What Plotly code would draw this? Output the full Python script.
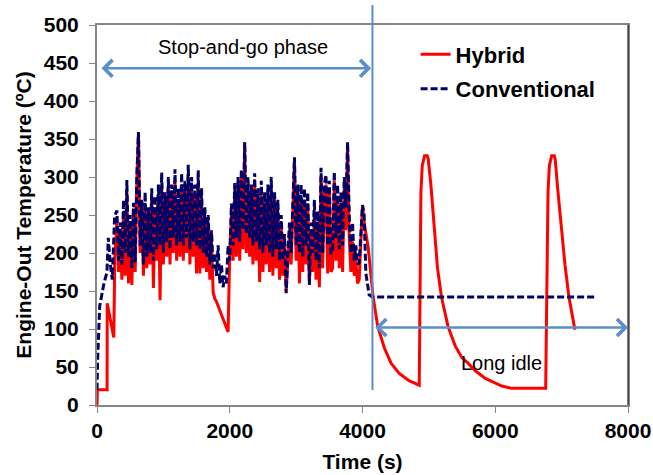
import plotly.graph_objects as go

# ---------------- data ----------------
# Hybrid (red, solid)
hyb_t_start = [0, 5, 152, 154, 253, 268]
hyb_v_start = [0, 20, 20, 134, 89, 195]
noise_t = list(range(300, 4026, 25))  # sample times of the stop-and-go phase
hyb_v_noise = [
    240, 175, 230, 165, 255, 170, 280, 160, 240, 158,
    250, 175, 295, 359, 200, 255, 170, 265, 180, 245,
    185, 270, 154, 260, 190, 275, 138, 290, 185, 265,
    195, 285, 185, 275, 200, 295, 190, 270, 195, 290,
    190, 280, 200, 300, 185, 285, 195, 275, 173, 295,
    173, 270, 180, 245, 175, 235, 165, 215, 148, 140,
    136, 130, 124, 118, 112, 106, 100, 96, 200, 250,
    190, 280, 195, 290, 190, 300, 205, 340, 200, 285,
    195, 275, 185, 290, 190, 270, 162, 280, 175, 265,
    185, 275, 175, 285, 170, 265, 180, 255, 165, 240,
    170, 215, 150, 195, 225, 185, 265, 320, 190, 280,
    160, 270, 175, 270, 185, 265, 160, 230, 175, 255,
    165, 240, 155, 300, 180, 275, 290, 173, 280, 175,
    180, 295, 190, 275, 180, 265, 175, 285, 230, 340,
    220, 175, 215, 170, 190, 160, 165, 210, 263, 240,
]
hyb_t_end = [4085, 4160, 4230, 4330, 4430, 4550, 4700, 4855, 4862, 4870, 4880,
             4900, 4935, 4975, 4990, 5030, 5080, 5130, 5190, 5290, 5400, 5500,
             5590, 5700, 5850, 5990, 6100, 6240, 6760, 6770, 6780, 6795, 6815,
             6850, 6890, 6905, 6940, 7000, 7050, 7110, 7200]
hyb_v_end = [208, 142, 103, 75, 55, 42, 32, 26, 100, 200, 280,
             315, 328, 328, 324, 290, 230, 180, 142, 103, 77, 62,
             55, 45, 35, 29, 25, 22, 22, 100, 200, 280, 315,
             328, 328, 322, 285, 230, 185, 142, 99]

# Conventional (navy, dashed)
conv_t_start = [0, 10, 40, 100, 150, 170, 200, 230, 265]
conv_v_start = [20, 60, 130, 158, 175, 220, 185, 165, 248]
conv_v_noise = [
    256, 190, 240, 185, 270, 200, 296, 195, 250, 180,
    266, 188, 300, 359, 210, 270, 185, 280, 195, 260,
    200, 285, 190, 275, 205, 290, 210, 306, 200, 280,
    215, 300, 205, 290, 220, 310, 210, 285, 215, 305,
    210, 295, 220, 316, 205, 300, 215, 290, 210, 309,
    205, 285, 200, 260, 195, 250, 185, 230, 180, 200,
    170, 210, 160, 185, 155, 170, 160, 210, 190, 265,
    210, 292, 220, 300, 215, 310, 230, 346, 225, 300,
    220, 290, 210, 305, 215, 285, 205, 295, 200, 280,
    210, 290, 200, 300, 195, 280, 205, 270, 190, 250,
    190, 225, 147, 200, 240, 200, 280, 326, 210, 290,
    200, 290, 195, 285, 210, 280, 158, 240, 200, 270,
    190, 255, 180, 312, 200, 290, 303, 210, 295, 200,
    200, 307, 220, 290, 205, 280, 210, 300, 260, 346,
    250, 200, 240, 190, 210, 185, 187, 220, 263, 250,
]
conv_t_end = [4050, 4100, 4150, 7500]
conv_v_end = [174, 145, 142, 142]

x_ticks = [0, 2000, 4000, 6000, 8000]
y_ticks = [0, 50, 100, 150, 200, 250, 300, 350, 400, 450, 500]

phase_split = 4150
stop_go_arrow = [45, 4130, 443]
idle_arrow = [4170, 8000, 102]

# ---------------- figure ----------------
RED = "#FF0000"
NAVY = "#000066"
BLUE = "#5B8FC9"
FONT = "Liberation Sans, Arial, sans-serif"

fig = go.Figure()
fig.add_trace(go.Scatter(
    x=hyb_t_start + noise_t + hyb_t_end,
    y=hyb_v_start + hyb_v_noise + hyb_v_end,
    mode="lines", name="Hybrid", legendgroup="a",
    line=dict(color=RED, width=3),
))
fig.add_trace(go.Scatter(
    x=conv_t_start + noise_t + conv_t_end,
    y=conv_v_start + conv_v_noise + conv_v_end,
    mode="lines", name="Conventional", legendgroup="b",
    line=dict(color=NAVY, width=3, dash="7px,3px"),
))

arrow_common = dict(xref="x", yref="y", axref="x", ayref="y", text="",
                    showarrow=True, arrowside="end+start",
                    arrowhead=4, startarrowhead=4,
                    arrowsize=1.3, startarrowsize=1.3,
                    arrowwidth=2.5, arrowcolor=BLUE, standoff=0, startstandoff=0)
fig.add_annotation(x=stop_go_arrow[1], y=stop_go_arrow[2],
                   ax=stop_go_arrow[0], ay=stop_go_arrow[2], **arrow_common)
fig.add_annotation(x=idle_arrow[1], y=idle_arrow[2],
                   ax=idle_arrow[0], ay=idle_arrow[2], **arrow_common)
fig.add_annotation(x=2193, y=471, xref="x", yref="y", text="Stop-and-go phase",
                   showarrow=False, font=dict(family=FONT, size=20, color="black"))
fig.add_annotation(x=6094, y=55, xref="x", yref="y", text="Long idle",
                   showarrow=False, font=dict(family=FONT, size=20, color="black"))

fig.add_shape(type="line", xref="x", yref="paper", x0=phase_split, x1=phase_split,
              y0=0.0395, y1=1.0526, line=dict(color=BLUE, width=2))
fig.add_shape(type="line", xref="paper", yref="paper", x0=1, x1=1, y0=0, y1=1,
              line=dict(color="black", width=1))

fig.update_layout(
    width=653, height=475,
    margin=dict(l=97, r=25, t=25, b=70),
    paper_bgcolor="white", plot_bgcolor="white",
    font=dict(family=FONT, color="black"),
    showlegend=True,
    legend=dict(x=0.60, y=0.978, xanchor="left", yanchor="top",
                traceorder="grouped", tracegroupgap=3,
                font=dict(family=FONT, size=22, color="black", weight="bold"),
                bgcolor="rgba(0,0,0,0)", itemwidth=30),
)
fig.update_xaxes(
    range=[0, 8000], tickvals=x_ticks, ticks="outside", ticklen=6,
    tickcolor="#868686", showline=True, linecolor="#868686", linewidth=2,
    mirror=True, showgrid=False, zeroline=False, automargin=False,
    tickfont=dict(family=FONT, size=21, color="black", weight="bold"),
    title=dict(text="Time (s)", standoff=13,
               font=dict(family=FONT, size=21, color="black", weight="bold")),
)
fig.update_yaxes(
    range=[0, 500], tickvals=y_ticks, ticks="outside", ticklen=6,
    tickcolor="#868686", showline=True, linecolor="#868686", linewidth=2,
    mirror=True, showgrid=False, zeroline=False, automargin=False,
    tickfont=dict(family=FONT, size=21, color="black", weight="bold"),
    ticklabelstandoff=6,
    title=dict(text="Engine-Out Temperature (ºC)", standoff=6,
               font=dict(family=FONT, size=21, color="black", weight="bold")),
)

fig.write_html("out.html")
